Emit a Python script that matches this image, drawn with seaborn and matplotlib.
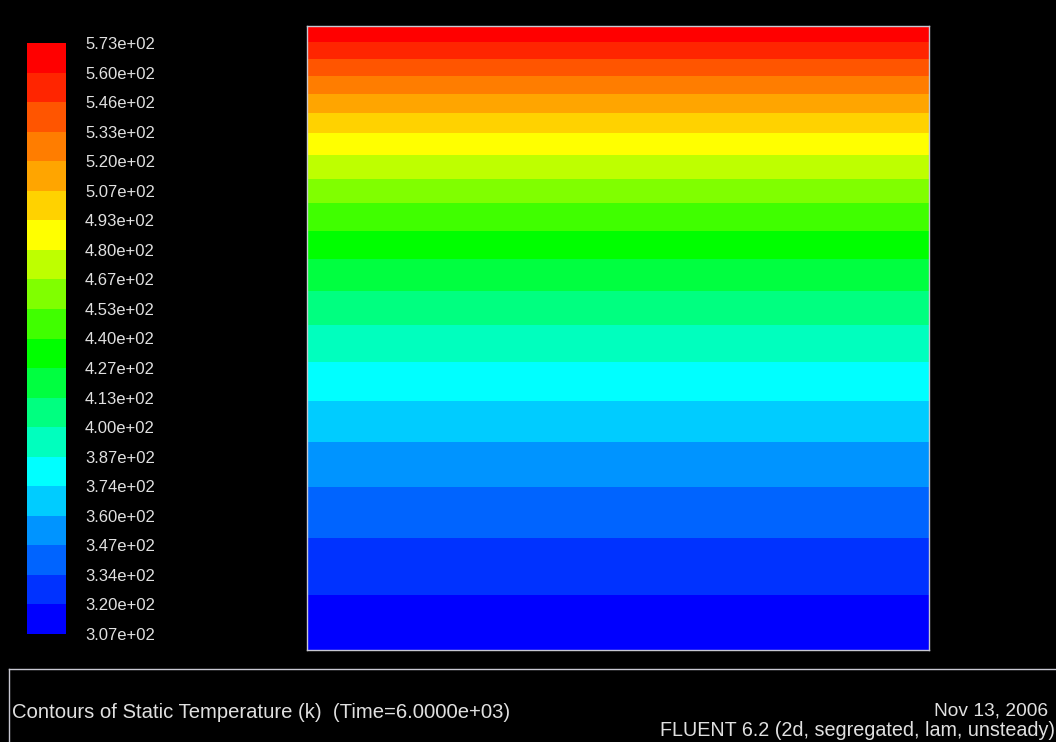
import numpy as np
import matplotlib
matplotlib.use("Agg")
import matplotlib.pyplot as plt
from matplotlib.colors import ListedColormap, BoundaryNorm
from matplotlib.transforms import blended_transform_factory
import seaborn as sns

# ---------------- data ----------------
# contour levels (K), bottom -> top, as labelled on the legend
level_labels = ["3.07e+02", "3.20e+02", "3.34e+02", "3.47e+02", "3.60e+02", "3.74e+02",
                "3.87e+02", "4.00e+02", "4.13e+02", "4.27e+02", "4.40e+02", "4.53e+02",
                "4.67e+02", "4.80e+02", "4.93e+02", "5.07e+02", "5.20e+02", "5.33e+02",
                "5.46e+02", "5.60e+02", "5.73e+02"]
# band colours, lowest temperature -> highest
band_colors = ["#0000ff", "#0032ff", "#0064ff", "#0094ff", "#00ccff", "#00ffff",
               "#00ffbe", "#00ff80", "#00ff40", "#00ff00", "#40ff00", "#80ff00",
               "#beff00", "#ffff00", "#ffd200", "#ffa500", "#ff7d00", "#ff5500",
               "#ff2500", "#ff0000"]
# normalised height in the domain where each interior level is crossed (bottom -> top)
crossing_heights = [0.088, 0.179, 0.262, 0.334, 0.399, 0.462, 0.521, 0.575, 0.626,
                    0.672, 0.716, 0.755, 0.794, 0.829, 0.861, 0.891, 0.920, 0.947, 0.975]
domain_bottom, domain_top = 0.0, 1.0
domain_left, domain_right = 0.0, 1.0
band_index = list(range(len(band_colors)))

title_text = "Contours of Static Temperature (k)  (Time=6.0000e+03)"
date_text = "Nov 13, 2006"
solver_text = "FLUENT 6.2 (2d, segregated, lam, unsteady)"

# ---------------- style ----------------
sns.set_theme(style="dark")
plt.rcParams["font.family"] = ["Liberation Sans", "DejaVu Sans"]
plt.rcParams["figure.facecolor"] = "black"
plt.rcParams["axes.facecolor"] = "black"

W, H = 1056, 742
fig = plt.figure(figsize=(W / 100, H / 100), dpi=100)
fig.patch.set_facecolor("black")

cmap = ListedColormap(band_colors)
norm = BoundaryNorm(np.arange(-0.5, len(band_colors) + 0.5, 1), cmap.N)
text_color = "#e0e0e0"
edge_color = "#c8c8d2"

# ---------------- legend colour bar (seaborn heatmap) ----------------
cb_left, cb_right, cb_top, cb_bottom = 27, 66, 43, 634
ax_cb = fig.add_axes([cb_left / W, 1 - cb_bottom / H, (cb_right - cb_left) / W,
                      (cb_bottom - cb_top) / H])
cb_data = np.array(band_index[::-1]).reshape(-1, 1)
sns.heatmap(cb_data, ax=ax_cb, cmap=cmap, norm=norm, cbar=False,
            xticklabels=False, yticklabels=False, linewidths=0)
ax_cb.set_xlabel("")
ax_cb.set_ylabel("")
labels_top_down = level_labels[::-1]
tr = blended_transform_factory(fig.transFigure, ax_cb.transData)
for i, lab in enumerate(labels_top_down):
    ax_cb.text(85 / W, i + 0.05, lab, transform=tr, ha="left", va="center",
               color=text_color, fontsize=12, clip_on=False)

# ---------------- main contour field ----------------
px_l, px_r, px_t, px_b = 307, 929, 26, 650
ax = fig.add_axes([px_l / W, 1 - px_b / H, (px_r - px_l) / W, (px_b - px_t) / H])
y_edges = np.array([domain_bottom] + crossing_heights + [domain_top])
x_edges = np.array([domain_left, domain_right])
C = np.array(band_index).reshape(-1, 1)
ax.pcolormesh(x_edges, y_edges, C, cmap=cmap, norm=norm, shading="flat")
ax.set_xlim(domain_left, domain_right)
ax.set_ylim(domain_bottom, domain_top)
ax.set_xticks([])
ax.set_yticks([])
for s in ax.spines.values():
    s.set_visible(True)
    s.set_color(edge_color)
    s.set_linewidth(1.0)

# ---------------- bottom caption frame ----------------
ax_cap = fig.add_axes([9 / W, 0, 1 - 9 / W + 0.01, (H - 669) / H])
ax_cap.set_facecolor("black")
ax_cap.set_xticks([])
ax_cap.set_yticks([])
for name, s in ax_cap.spines.items():
    if name in ("top", "left"):
        s.set_visible(True)
        s.set_color(edge_color)
        s.set_linewidth(1.0)
    else:
        s.set_visible(False)

fig.text(12 / W, 1 - 713 / H, title_text, ha="left", va="center",
         color=text_color, fontsize=14.6)
fig.text(1048 / W, 1 - 711 / H, date_text, ha="right", va="center",
         color=text_color, fontsize=13.8)
fig.text(1055 / W, 1 - 731 / H, solver_text, ha="right", va="center",
         color=text_color, fontsize=14.2)

fig.savefig("out.png", dpi=100, facecolor="black")
